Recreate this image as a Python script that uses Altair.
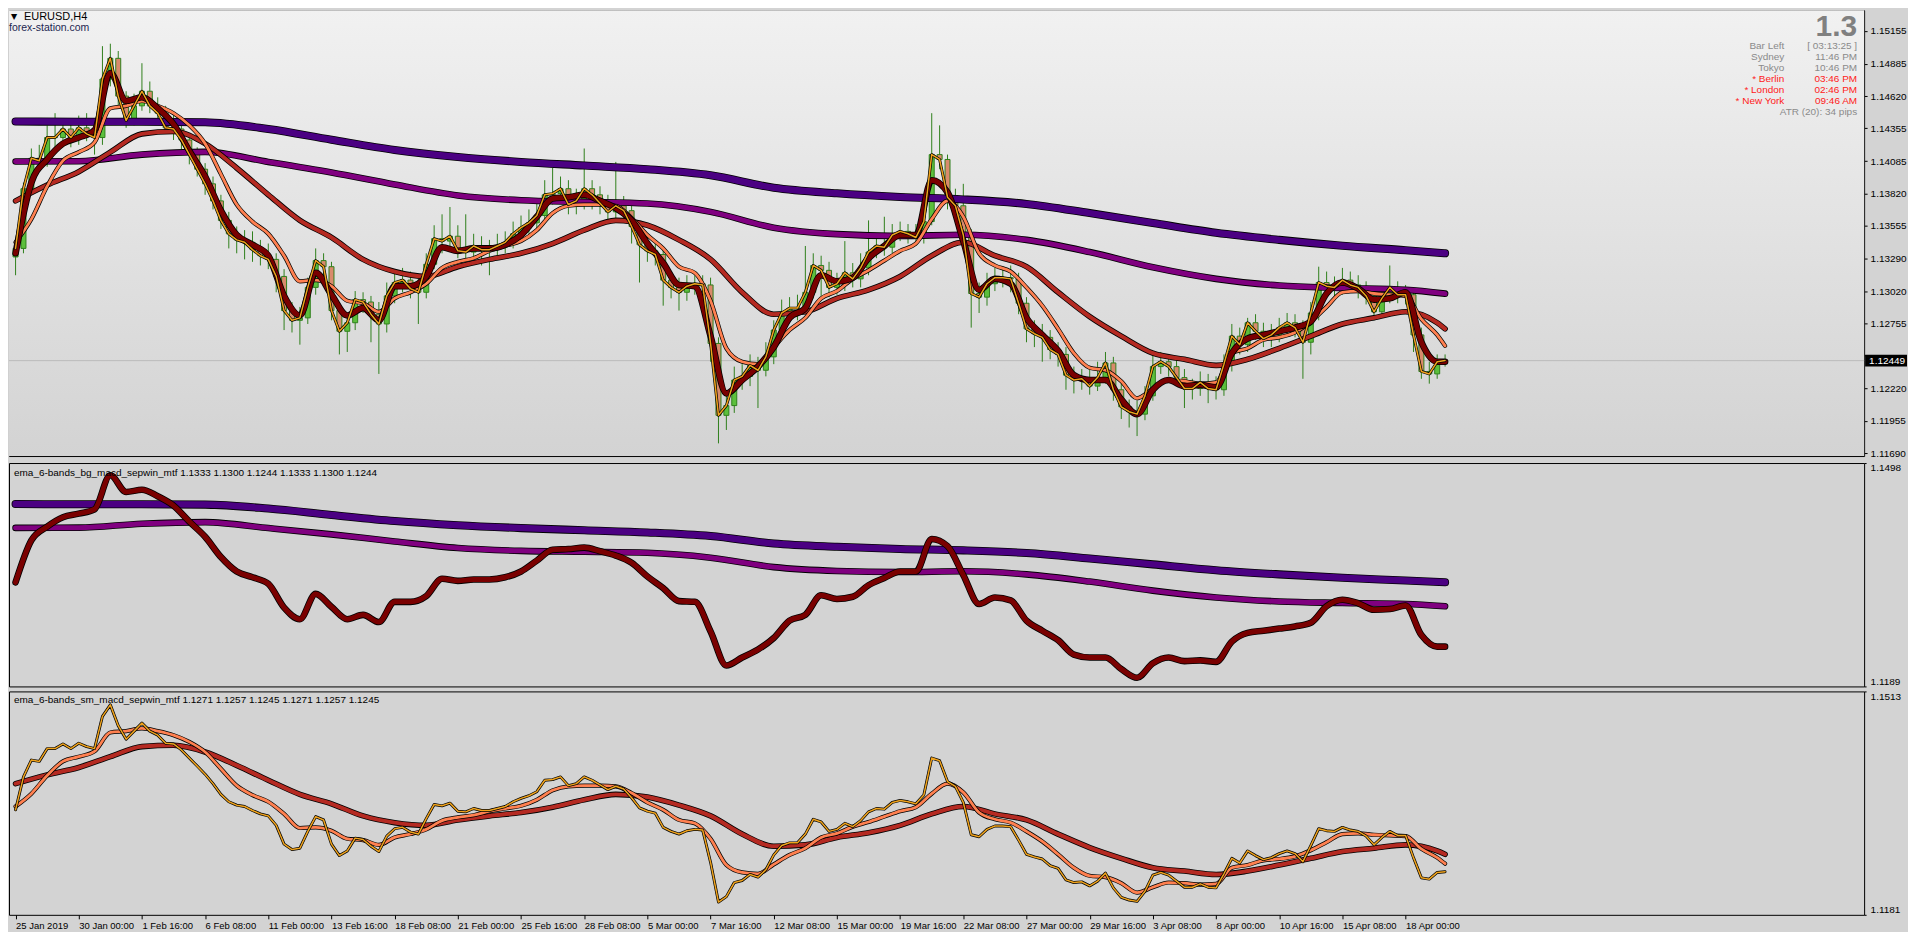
import json
import pandas as pd
import altair as alt

# ---------------- layout ----------------
W = 1860
H1, H2, H3 = 447, 224, 224

# ---------------- data (EURUSD H4) ----------------
idx2 = list(range(0, 363, 2))  # candle positions (bar index)
close = [
    1.1337, 1.1386, 1.1411, 1.1409, 1.1428, 1.1428, 1.1435, 1.1428, 1.1436, 1.1431,
    1.1428, 1.1476, 1.1493, 1.1462, 1.1442, 1.1454, 1.1466, 1.1454, 1.1448, 1.1436,
    1.1435, 1.1426, 1.1414, 1.1402, 1.1390, 1.1376, 1.1360, 1.1349, 1.1344, 1.1342,
    1.1336, 1.1331, 1.1328, 1.1314, 1.1286, 1.1278, 1.1280, 1.1305, 1.1327, 1.1322,
    1.1286, 1.1269, 1.1276, 1.1295, 1.1293, 1.1283, 1.1275, 1.1298, 1.1309, 1.1311,
    1.1304, 1.1301, 1.1324, 1.1345, 1.1343, 1.1347, 1.1335, 1.1334, 1.1339, 1.1336,
    1.1336, 1.1339, 1.1342, 1.1349, 1.1354, 1.1358, 1.1364, 1.1381, 1.1382, 1.1386,
    1.1373, 1.1376, 1.1386, 1.1381, 1.1374, 1.1367, 1.1372, 1.1368, 1.1355, 1.1340,
    1.1335, 1.1332, 1.1311, 1.1305, 1.1301, 1.1306, 1.1308, 1.1307, 1.1259, 1.1200,
    1.1208, 1.1229, 1.1232, 1.1241, 1.1237, 1.1248, 1.1270, 1.1284, 1.1288, 1.1288,
    1.1301, 1.1323, 1.1319, 1.1305, 1.1308, 1.1317, 1.1312, 1.1321, 1.1334, 1.1339,
    1.1338, 1.1348, 1.1351, 1.1349, 1.1346, 1.1359, 1.1414, 1.1410, 1.1379, 1.1372,
    1.1348, 1.1300, 1.1297, 1.1308, 1.1313, 1.1313, 1.1312, 1.1292, 1.1271, 1.1267,
    1.1264, 1.1254, 1.1250, 1.1233, 1.1229, 1.1230, 1.1224, 1.1231, 1.1243, 1.1221,
    1.1207, 1.1203, 1.1201, 1.1216, 1.1240, 1.1244, 1.1240, 1.1231, 1.1222, 1.1222,
    1.1227, 1.1222, 1.1221, 1.1242, 1.1265, 1.1258, 1.1276, 1.1269, 1.1263, 1.1266,
    1.1272, 1.1276, 1.1272, 1.1260, 1.1284, 1.1309, 1.1306, 1.1305, 1.1311, 1.1307,
    1.1305, 1.1298, 1.1285, 1.1296, 1.1305, 1.1299, 1.1299, 1.1266, 1.1236, 1.1234,
    1.1244, 1.1245,
]
high = [
    1.1345, 1.1391, 1.1419, 1.1422, 1.1438, 1.1448, 1.1444, 1.1444, 1.1446, 1.1448,
    1.1440, 1.1503, 1.1505, 1.1499, 1.1466, 1.1464, 1.1489, 1.1474, 1.1461, 1.1454,
    1.1446, 1.1442, 1.1431, 1.1420, 1.1407, 1.1396, 1.1381, 1.1367, 1.1355, 1.1352,
    1.1351, 1.1344, 1.1341, 1.1333, 1.1320, 1.1293, 1.1289, 1.1313, 1.1337, 1.1333,
    1.1326, 1.1293, 1.1284, 1.1302, 1.1301, 1.1298, 1.1293, 1.1309, 1.1318, 1.1321,
    1.1318, 1.1312, 1.1333, 1.1356, 1.1365, 1.1371, 1.1356, 1.1365, 1.1349, 1.1347,
    1.1344, 1.1349, 1.1351, 1.1359, 1.1364, 1.1369, 1.1375, 1.1393, 1.1403, 1.1396,
    1.1393, 1.1386, 1.1419, 1.1393, 1.1388, 1.1381, 1.1408, 1.1380, 1.1373, 1.1358,
    1.1347, 1.1343, 1.1337, 1.1317, 1.1313, 1.1315, 1.1315, 1.1315, 1.1313, 1.1264,
    1.1220, 1.1240, 1.1242, 1.1250, 1.1248, 1.1260, 1.1278, 1.1295, 1.1297, 1.1299,
    1.1339, 1.1333, 1.1331, 1.1326, 1.1317, 1.1343, 1.1325, 1.1333, 1.1360, 1.1348,
    1.1363, 1.1357, 1.1359, 1.1357, 1.1357, 1.1377, 1.1448, 1.1438, 1.1414, 1.1386,
    1.1390, 1.1353, 1.1309, 1.1317, 1.1321, 1.1322, 1.1323, 1.1317, 1.1297, 1.1278,
    1.1275, 1.1270, 1.1260, 1.1256, 1.1240, 1.1238, 1.1238, 1.1244, 1.1252, 1.1248,
    1.1228, 1.1213, 1.1212, 1.1224, 1.1250, 1.1252, 1.1250, 1.1246, 1.1238, 1.1230,
    1.1236, 1.1234, 1.1232, 1.1250, 1.1275, 1.1272, 1.1280, 1.1283, 1.1276, 1.1275,
    1.1280, 1.1284, 1.1283, 1.1278, 1.1293, 1.1322, 1.1318, 1.1314, 1.1321, 1.1318,
    1.1315, 1.1310, 1.1305, 1.1305, 1.1323, 1.1310, 1.1307, 1.1304, 1.1272, 1.1244,
    1.1250, 1.1250,
]
low = [
    1.1315, 1.1333, 1.1381, 1.1402, 1.1404, 1.1420, 1.1422, 1.1420, 1.1422, 1.1425,
    1.1414, 1.1422, 1.1470, 1.1454, 1.1436, 1.1438, 1.1450, 1.1448, 1.1439, 1.1431,
    1.1426, 1.1418, 1.1406, 1.1396, 1.1381, 1.1369, 1.1353, 1.1337, 1.1333, 1.1328,
    1.1326, 1.1323, 1.1320, 1.1301, 1.1270, 1.1268, 1.1258, 1.1275, 1.1299, 1.1315,
    1.1278, 1.1250, 1.1252, 1.1270, 1.1284, 1.1260, 1.1234, 1.1268, 1.1292, 1.1301,
    1.1296, 1.1275, 1.1296, 1.1320, 1.1333, 1.1335, 1.1329, 1.1323, 1.1328, 1.1323,
    1.1315, 1.1329, 1.1333, 1.1337, 1.1343, 1.1349, 1.1352, 1.1359, 1.1373, 1.1377,
    1.1365, 1.1365, 1.1369, 1.1369, 1.1365, 1.1361, 1.1360, 1.1361, 1.1341, 1.1309,
    1.1326, 1.1323, 1.1290, 1.1296, 1.1286, 1.1294, 1.1299, 1.1301, 1.1244, 1.1177,
    1.1188, 1.1202, 1.1221, 1.1224, 1.1206, 1.1232, 1.1242, 1.1264, 1.1278, 1.1278,
    1.1283, 1.1296, 1.1298, 1.1297, 1.1299, 1.1302, 1.1305, 1.1305, 1.1315, 1.1329,
    1.1331, 1.1333, 1.1343, 1.1341, 1.1339, 1.1341, 1.1356, 1.1402, 1.1369, 1.1361,
    1.1341, 1.1272, 1.1284, 1.1290, 1.1302, 1.1305, 1.1301, 1.1283, 1.1260, 1.1256,
    1.1244, 1.1246, 1.1240, 1.1221, 1.1218, 1.1221, 1.1217, 1.1220, 1.1226, 1.1212,
    1.1197, 1.1190, 1.1183, 1.1196, 1.1212, 1.1234, 1.1232, 1.1224, 1.1206, 1.1213,
    1.1216, 1.1210, 1.1213, 1.1216, 1.1236, 1.1250, 1.1252, 1.1262, 1.1256, 1.1256,
    1.1260, 1.1267, 1.1264, 1.1230, 1.1250, 1.1278, 1.1299, 1.1297, 1.1299, 1.1301,
    1.1296, 1.1291, 1.1278, 1.1280, 1.1292, 1.1292, 1.1291, 1.1252, 1.1230, 1.1226,
    1.1230, 1.1240,
]
first_open = 1.1330

idx4 = list(range(0, 361, 4)) + [362]
ema_darkred = [
    1.1333, 1.1391, 1.1410, 1.1423, 1.1428, 1.1434, 1.1481, 1.1458, 1.1461, 1.1452,
    1.1439, 1.1417, 1.1396, 1.1368, 1.1348, 1.1340, 1.1331, 1.1298, 1.1282, 1.1317,
    1.1299, 1.1282, 1.1288, 1.1278, 1.1306, 1.1306, 1.1314, 1.1338, 1.1335, 1.1337,
    1.1337, 1.1340, 1.1348, 1.1363, 1.1378, 1.1379, 1.1381, 1.1376, 1.1370, 1.1360,
    1.1341, 1.1325, 1.1307, 1.1306, 1.1265, 1.1218, 1.1229, 1.1240, 1.1256, 1.1280,
    1.1288, 1.1315, 1.1310, 1.1313, 1.1329, 1.1339, 1.1348, 1.1348, 1.1393, 1.1383,
    1.1343, 1.1303, 1.1312, 1.1308, 1.1280, 1.1266, 1.1253, 1.1233, 1.1229, 1.1229,
    1.1213, 1.1201, 1.1221, 1.1229, 1.1224, 1.1225, 1.1223, 1.1251, 1.1263, 1.1266,
    1.1269, 1.1272, 1.1277, 1.1300, 1.1309, 1.1304, 1.1295, 1.1296, 1.1301, 1.1260,
    1.1244, 1.1244,
]
ema_salmon = [
    1.1342, 1.1361, 1.1388, 1.1409, 1.1416, 1.1424, 1.1452, 1.1454, 1.1458, 1.1454,
    1.1448, 1.1438, 1.1423, 1.1398, 1.1373, 1.1359, 1.1349, 1.1331, 1.1310, 1.1311,
    1.1306, 1.1294, 1.1292, 1.1285, 1.1296, 1.1301, 1.1308, 1.1321, 1.1326, 1.1329,
    1.1335, 1.1339, 1.1343, 1.1352, 1.1366, 1.1372, 1.1373, 1.1373, 1.1372, 1.1362,
    1.1348, 1.1337, 1.1322, 1.1317, 1.1294, 1.1255, 1.1244, 1.1242, 1.1256, 1.1270,
    1.1280, 1.1296, 1.1302, 1.1312, 1.1319, 1.1327, 1.1335, 1.1341, 1.1361, 1.1376,
    1.1363, 1.1333, 1.1323, 1.1318, 1.1305, 1.1290, 1.1271, 1.1251, 1.1239, 1.1237,
    1.1228, 1.1214, 1.1222, 1.1229, 1.1228, 1.1226, 1.1227, 1.1251, 1.1255, 1.1262,
    1.1264, 1.1268, 1.1277, 1.1289, 1.1301, 1.1302, 1.1300, 1.1299, 1.1298, 1.1279,
    1.1266, 1.1257,
]
idx8 = list(range(0, 361, 8)) + [362]
ema_red = [
    1.1376, 1.1389, 1.1400, 1.1416, 1.1431, 1.1433, 1.1423, 1.1403, 1.1381, 1.1360,
    1.1346, 1.1328, 1.1318, 1.1314, 1.1322, 1.1328, 1.1333, 1.1341, 1.1352, 1.1360,
    1.1356, 1.1344, 1.1328, 1.1301, 1.1283, 1.1285, 1.1296, 1.1303, 1.1314, 1.1331,
    1.1342, 1.1331, 1.1322, 1.1301, 1.1281, 1.1265, 1.1251, 1.1246, 1.1241, 1.1246,
    1.1255, 1.1265, 1.1275, 1.1280, 1.1285, 1.1276,
    1.1271,
]
idx16 = list(range(0, 353, 16)) + [362]
ema_violet = [
    1.14412, 1.14410, 1.14410, 1.14405, 1.14350, 1.14262, 1.14178, 1.14120, 1.14080,
    1.14050, 1.14020, 1.13970, 1.13868, 1.13822, 1.13792, 1.13772, 1.13735, 1.13660,
    1.13578, 1.13498, 1.13440, 1.13392, 1.13355, 1.13330,
]
ema_purple = [
    1.14083, 1.14086, 1.14140, 1.14162, 1.14080, 1.13993, 1.13895, 1.13805, 1.13765,
    1.13752, 1.13738, 1.13670, 1.13540, 1.13487, 1.13472, 1.13482, 1.13440, 1.13340,
    1.13215, 1.13120, 1.13065, 1.13045, 1.13030, 1.12999,
]

date_ticks = list(range(0, 353, 16))
date_labels = [
    "25 Jan 2019", "30 Jan 00:00", "1 Feb 16:00", "6 Feb 08:00", "11 Feb 00:00",
    "13 Feb 16:00", "18 Feb 08:00", "21 Feb 00:00", "25 Feb 16:00", "28 Feb 08:00",
    "5 Mar 00:00", "7 Mar 16:00", "12 Mar 08:00", "15 Mar 00:00", "19 Mar 16:00",
    "22 Mar 08:00", "27 Mar 00:00", "29 Mar 16:00", "3 Apr 08:00", "8 Apr 00:00",
    "10 Apr 16:00", "15 Apr 08:00", "18 Apr 00:00",
]
top_ticks = [1.11690, 1.11955, 1.12220, 1.12490, 1.12755, 1.13020, 1.13290,
             1.13555, 1.13820, 1.14085, 1.14355, 1.14620, 1.14885, 1.15155]
hidden_tick = 1.12490  # its label sits under the current-price tag
last_price = 1.12449
info_rows = [
    ("Bar Left", "[ 03:13:25 ]", "grey"),
    ("Sydney", "11:46 PM", "grey"),
    ("Tokyo", "10:46 PM", "grey"),
    ("* Berlin", "03:46 PM", "red"),
    ("* London", "02:46 PM", "red"),
    ("* New York", "09:46 AM", "red"),
]

# ---------------- frames ----------------
cdf = pd.DataFrame({"i": idx2, "close": close, "high": high, "low": low})
cdf["open"] = cdf["close"].shift(1).fillna(first_open)
cdf["dir"] = ["up" if c >= o else "down" for o, c in zip(cdf["open"], cdf["close"])]


def series(idx, vals):
    return pd.DataFrame({"i": idx, "v": vals})


s_close = series(idx2, close)
s_dark = series(idx4, ema_darkred)
s_salmon = series(idx4, ema_salmon)
s_red = series(idx8, ema_red)
s_violet = series(idx16, ema_violet)
s_purple = series(idx16, ema_purple)

FONT = "Liberation Sans"
C_VIOLET = "#4B0082"
C_PURPLE = "#800080"
C_DARK = "#7A0000"
C_RED = "#B52A22"
C_SALMON = "#FF8050"
C_GOLD = "#F0A31C"

xs = alt.Scale(domain=[-0.4, 466.85], nice=False, zero=False)


def xenc(axis=None):
    return alt.X("i:Q", scale=xs, axis=axis, title=None)


x_axis_bottom = alt.Axis(
    values=date_ticks,
    labelExpr=json.dumps(date_labels) + "[round(datum.value / 16)]",
    labelAlign="left", labelBaseline="top", labelPadding=2, tickSize=4,
    labelFontSize=9.5, labelFlush=False, labelOverlap=False, grid=False, domain=False,
)

ys_top = alt.Scale(domain=[1.11666, 1.15325], nice=False, zero=False)
ax_top = alt.Axis(
    orient="right", values=top_ticks, tickSize=3,
    labelExpr="abs(datum.value - %r) < 0.00001 ? '' : format(datum.value, '.5f')" % hidden_tick,
    labelPadding=3, labelOverlap=False, labelFlush=False, grid=False, domain=False)
ys_mid = alt.Scale(domain=[1.1189, 1.1498], nice=False, zero=False)
ax_mid = alt.Axis(orient="right", values=[1.1189, 1.1498], format=".4f", tickSize=2,
                  labelPadding=4, labelFlush=True, labelOverlap=False, grid=False, domain=False)
ys_bot = alt.Scale(domain=[1.1181, 1.1513], nice=False, zero=False)
ax_bot = alt.Axis(orient="right", values=[1.1181, 1.1513], format=".4f", tickSize=2,
                  labelPadding=4, labelFlush=True, labelOverlap=False, grid=False, domain=False)


def outlined(df, color, w, ys, ax, xaxis=None, interp="monotone", edge=1.6):
    base = alt.Chart(df).encode(
        x=xenc(xaxis),
        y=alt.Y("v:Q", scale=ys, axis=ax, title=None),
    )
    return [
        base.mark_line(color="black", strokeWidth=w + edge, interpolate=interp,
                       strokeJoin="round", strokeCap="round"),
        base.mark_line(color=color, strokeWidth=w, interpolate=interp,
                       strokeJoin="round", strokeCap="round"),
    ]


def label(text, x, y, size=10, color="black", align="left", weight="normal", font=FONT,
          baseline="middle"):
    return alt.Chart(pd.DataFrame({"t": [text]})).mark_text(
        align=align, baseline=baseline, fontSize=size, color=color, fontWeight=weight,
        font=font,
    ).encode(text="t:N", x=alt.value(x), y=alt.value(y))


# ---------------- top panel ----------------
grad = alt.LinearGradient(
    gradient="linear",
    stops=[alt.GradientStop(color="#f1f1f1", offset=0),
           alt.GradientStop(color="#d3d3d3", offset=1)],
    x1=0, x2=0, y1=0, y2=1,
)
bg = alt.Chart(pd.DataFrame({"a": [0]})).mark_rect(fill=grad).encode(
    x=alt.value(0), x2=alt.value(W), y=alt.value(0), y2=alt.value(H1))


def ytop(f):
    return alt.Y(f"{f}:Q", scale=ys_top, axis=ax_top, title=None)


price_line = alt.Chart(pd.DataFrame({"p": [last_price]})).mark_rule(
    color="#bcbcbc", strokeWidth=1).encode(y=ytop("p"))

wicks = alt.Chart(cdf).mark_rule(color="#2f7f1c", strokeWidth=1).encode(
    x=xenc(), y=ytop("low"), y2="high")
bodies = alt.Chart(cdf).mark_bar(width=5, stroke="#2f7f1c", strokeWidth=1).encode(
    x=xenc(), y=ytop("open"), y2="close",
    fill=alt.Fill("dir:N", scale=alt.Scale(domain=["up", "down"], range=["#5cbf3c", "#d98a6c"]),
                  legend=None),
)

top_layers = [bg, price_line, wicks, bodies]
top_layers += outlined(s_violet, C_VIOLET, 6.5, ys_top, ax_top)
top_layers += outlined(s_purple, C_PURPLE, 5, ys_top, ax_top)
top_layers += outlined(s_red, C_RED, 4, ys_top, ax_top)
top_layers += outlined(s_salmon, C_SALMON, 2.8, ys_top, ax_top, edge=1.4)
top_layers += outlined(s_dark, C_DARK, 5, ys_top, ax_top)
top_layers += outlined(s_close, C_GOLD, 1.5, ys_top, ax_top, interp="linear", edge=1.4)

# current price tag on the axis
tag_box = alt.Chart(pd.DataFrame({"p0": [last_price - 0.00049], "p1": [last_price + 0.00049]})).mark_rect(
    color="black").encode(x=alt.value(W + 1), x2=alt.value(W + 43), y=ytop("p0"), y2="p1")
tag_txt = alt.Chart(pd.DataFrame({"p": [last_price], "t": ["1.12449"]})).mark_text(
    align="left", baseline="middle", color="white", fontSize=10, font=FONT).encode(
    x=alt.value(W + 5), y=ytop("p"), text="t:N")
top_layers += [tag_box, tag_txt]

# text annotations
top_layers += [
    label("\u25BC", 2, 7, size=8, font="DejaVu Sans"),
    label("EURUSD,H4", 15, 7, size=11),
    label("forex-station.com", 0, 18, size=10.5, color="#1c2650"),
    label("1.3", W - 7, 17, size=30, color="#808080", align="right", weight="bold"),
]
for k, (name, val, col) in enumerate(info_rows):
    c = "#8a8a8a" if col == "grey" else "#ff1a1a"
    top_layers.append(label(name, W - 80, 36 + 11 * k, size=10, color=c, align="right"))
    top_layers.append(label(val, W - 7, 36 + 11 * k, size=10, color=c, align="right"))
top_layers.append(label("ATR (20): 34 pips", W - 7, 36 + 11 * 6, size=10, color="#8a8a8a",
                        align="right"))

top = alt.layer(*top_layers).properties(width=W, height=H1)

# ---------------- middle panel ----------------
mid_layers = []
mid_layers += outlined(s_violet, C_VIOLET, 6.5, ys_mid, ax_mid)
mid_layers += outlined(s_purple, C_PURPLE, 5, ys_mid, ax_mid)
mid_layers += outlined(s_dark, C_DARK, 5, ys_mid, ax_mid)
mid_layers.append(label("ema_6-bands_bg_macd_sepwin_mtf 1.1333 1.1300 1.1244 1.1333 1.1300 1.1244",
                        5, 10, size=10))
mid = alt.layer(*mid_layers).properties(width=W, height=H2)

# ---------------- bottom panel ----------------
bot_layers = []
bot_layers += outlined(s_red, C_RED, 4, ys_bot, ax_bot, xaxis=x_axis_bottom)
bot_layers += outlined(s_salmon, C_SALMON, 2.8, ys_bot, ax_bot, xaxis=x_axis_bottom, edge=1.4)
bot_layers += outlined(s_close, C_GOLD, 1.5, ys_bot, ax_bot, xaxis=x_axis_bottom,
                       interp="linear", edge=1.4)
bot_layers.append(label("ema_6-bands_sm_macd_sepwin_mtf 1.1271 1.1257 1.1245 1.1271 1.1257 1.1245",
                        5, 9, size=10))
bot = alt.layer(*bot_layers).properties(width=W, height=H3)

chart = (
    alt.vconcat(top, mid, bot, spacing=3)
    .resolve_scale(x="shared", y="independent")
    .configure(background="#d3d3d3", padding={"left": 0, "top": 0, "right": 0, "bottom": 0},
               font=FONT)
    .configure_view(stroke="black", strokeWidth=1)
    .configure_axis(labelFont=FONT, labelColor="black", tickColor="black", labelFontSize=10)
)

chart.save("out.html", embed_options={"renderer": "svg", "actions": False})
